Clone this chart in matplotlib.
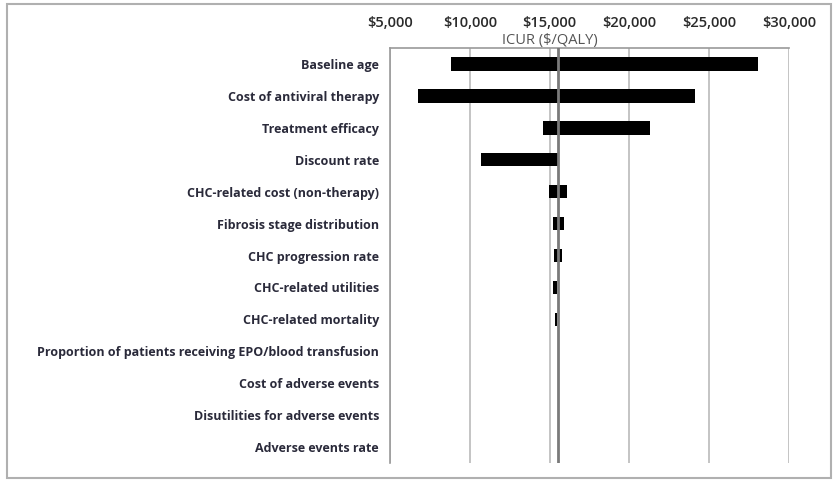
import matplotlib.pyplot as plt
from matplotlib.patches import Rectangle
from matplotlib.ticker import FuncFormatter

# Tornado diagram data (ICUR, $/QALY)
params = [
    'Baseline age',
    'Cost of antiviral therapy',
    'Treatment efficacy',
    'Discount rate',
    'CHC-related cost (non-therapy)',
    'Fibrosis stage distribution',
    'CHC progression rate',
    'CHC-related utilities',
    'CHC-related mortality',
    'Proportion of patients receiving EPO/blood transfusion',
    'Cost of adverse events',
    'Disutilities for adverse events',
    'Adverse events rate',
]
low_vals = [8820, 6750, 14590, 10700, 14960, 15210, 15300, 15190, 15340, 15520, 15520, 15520, 15520]
high_vals = [28060, 24100, 21290, 15520, 16090, 15900, 15780, 15440, 15460, 15520, 15520, 15520, 15520]
base_icur = 15520
x_ticks = [5000, 10000, 15000, 20000, 25000, 30000]

plt.rcParams['font.family'] = ['Open Sans', 'DejaVu Sans']

fig = plt.figure(figsize=(8.33, 4.82), dpi=100)
ax = fig.add_axes([390 / 833, 1 - 463 / 482, 399 / 833, 415 / 482])

for i, (lo, hi) in enumerate(zip(low_vals, high_vals)):
    left = min(lo, hi)
    width = abs(hi - lo)
    if width > 0:
        ax.barh(i, width, left=left, height=0.42, color='black', zorder=3)

ax.set_xlim(5000, 30000)
ax.set_ylim(len(params) - 0.5, -0.5)
ax.set_xticks(x_ticks)
ax.xaxis.set_major_formatter(FuncFormatter(lambda v, p: '${:,.0f}'.format(v)))
ax.xaxis.tick_top()
ax.tick_params(axis='x', length=0, pad=13, labelsize=10.5, labelcolor='#2a2a2a')
for lbl in ax.get_xticklabels():
    lbl.set_fontweight('semibold')
ax.set_yticks(range(len(params)))
ax.set_yticklabels(params, fontsize=9, fontweight='bold', color='#2a2a3a')
ax.tick_params(axis='y', length=0, pad=8)

ax.grid(axis='x', color='#c4c4c4', linewidth=1.4, zorder=0)
ax.axvline(base_icur, color='#7a7a7a', linewidth=2, zorder=4)

for side in ['bottom', 'right']:
    ax.spines[side].set_visible(False)
for side in ['top', 'left']:
    ax.spines[side].set_color('#9a9a9a')
    ax.spines[side].set_linewidth(1.2)

ax.text(0.40, 1.0, 'ICUR ($/QALY)', transform=ax.transAxes, ha='center', va='bottom',
        fontsize=10.5, color='#555555')

fig.patches.append(Rectangle((7 / 833, 4 / 482), 824 / 833, 474 / 482, transform=fig.transFigure,
                             fill=False, edgecolor='#b0b0b0', linewidth=1.5))

fig.savefig('out.png', dpi=100)
